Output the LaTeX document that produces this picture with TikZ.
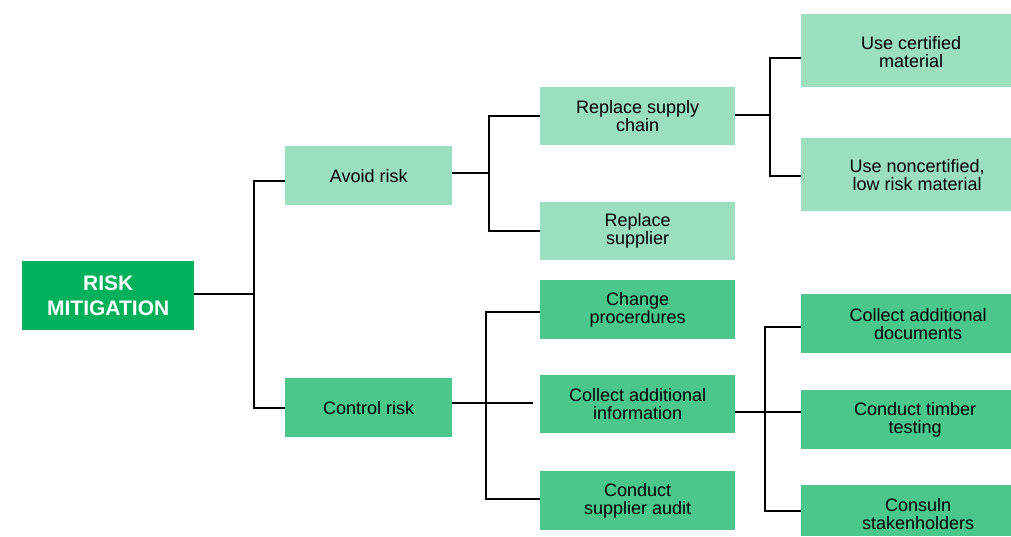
\documentclass[tikz,border=0pt]{standalone}
\usepackage{fontspec}
\setmainfont{Liberation Sans}
\definecolor{rootgreen}{HTML}{00B05A}
\definecolor{lightgreen}{HTML}{9CDFC0}
\definecolor{midgreen}{HTML}{4CC78C}
\begin{document}
\begin{tikzpicture}[x=1pt,y=-1pt,
  every node/.style={font=\fontsize{18}{18}\selectfont, text=black},
  box/.style={rectangle, anchor=north west, inner sep=0pt, align=center},
  lightbox/.style={box, fill=lightgreen},
  midbox/.style={box, fill=midgreen},
  rootbox/.style={box, fill=rootgreen, text=white,
    font=\fontsize{21}{25.5}\selectfont\bfseries},
  link/.style={draw=black, line width=2pt}]
\useasboundingbox (0,0) rectangle (1011,536);

% root
\node[rootbox, minimum width=172pt, minimum height=69pt] (risk) at (22,261) {RISK\\MITIGATION};

% first level
\node[lightbox, minimum width=167pt, minimum height=59pt] (avoid) at (285,146) {Avoid risk};
\node[midbox, minimum width=167pt, minimum height=59pt] (control) at (285,378) {Control risk};

% second level
\node[lightbox, minimum width=195pt, minimum height=58pt] (chain) at (540,87) {Replace supply\\chain};
\node[lightbox, minimum width=195pt, minimum height=58pt] (supplier) at (540,202) {Replace\\supplier};
\node[midbox, minimum width=195pt, minimum height=59pt] (proc) at (540,280) {Change\\procerdures};
\node[midbox, minimum width=195pt, minimum height=58pt] (info) at (540,375) {Collect additional\\information};
\node[midbox, minimum width=195pt, minimum height=59pt] (audit) at (540,471) {Conduct\\supplier audit};

% third level
\node[lightbox, minimum width=210pt, minimum height=73pt,
  label={[xshift=5pt, yshift=-1pt, align=center]center:{Use certified\\material}}] (cert) at (801,14) {};
\node[lightbox, minimum width=210pt, minimum height=73pt,
  label={[xshift=11pt, align=center]center:{Use noncertified,\\low risk material}}] (noncert) at (801,138) {};
\node[midbox, minimum width=210pt, minimum height=59pt,
  label={[xshift=12pt, align=center]center:{Collect additional\\documents}}] (docs) at (801,294) {};
\node[midbox, minimum width=210pt, minimum height=59pt,
  label={[xshift=9pt, align=center]center:{Conduct timber\\testing}}] (timber) at (801,390) {};
\node[midbox, minimum width=210pt, minimum height=51pt,
  label={[xshift=12pt, yshift=-3pt, align=center]center:{Consuln\\stakenholders}}] (consult) at (801,485) {};

% junction points
\coordinate (j1) at (254,294);
\coordinate (j2) at (489,173);
\coordinate (j3) at (770,115);
\coordinate (j4) at (486,403);
\coordinate (j5) at (765,412);

% connectors
\draw[link] (risk.east |- j1) -- (j1);
\draw[link] (j1) |- ([yshift=-5pt]avoid.west);
\draw[link] (j1) |- (control.west);

\draw[link] (avoid.east |- j2) -- (j2);
\draw[link] (j2) |- (chain.west);
\draw[link] (j2) |- (supplier.west);

\draw[link] (chain.east |- j3) -- (j3);
\draw[link] (j3) |- ([yshift=-7pt]cert.west);
\draw[link] (j3) |- ([yshift=-1pt]noncert.west);

\draw[link] (control.east |- j4) -- ([xshift=-7pt]info.west |- j4);
\draw[link] (j4) |- ([yshift=-2pt]proc.west);
\draw[link] (j4) |- ([yshift=2pt]audit.west);

\draw[link] (info.east |- j5) -- (j5);
\draw[link] (j5) |- ([yshift=-3pt]docs.west);
\draw[link] (j5) -- (timber.west |- j5);
\draw[link] (j5) |- (consult.west);
\end{tikzpicture}
\end{document}
